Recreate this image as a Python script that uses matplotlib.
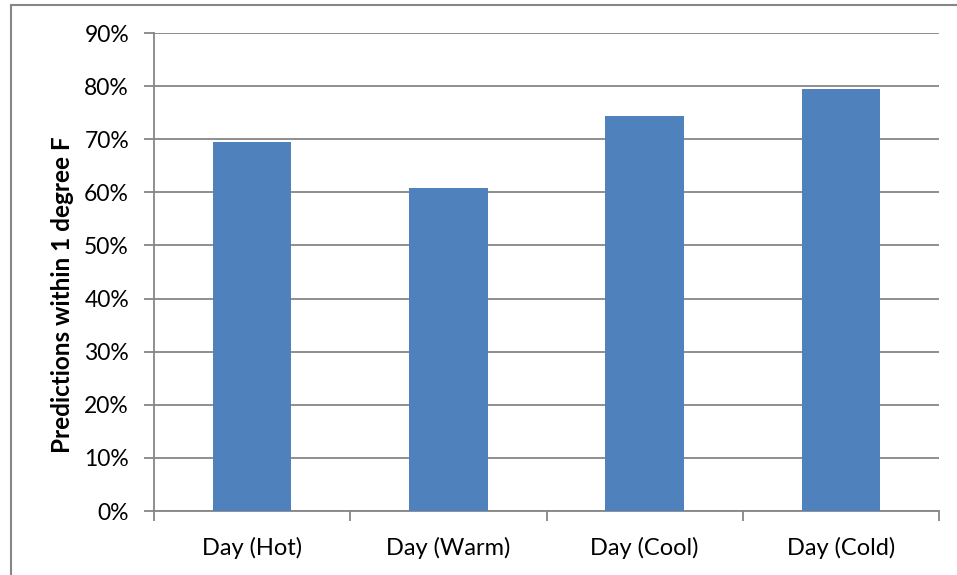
import matplotlib.pyplot as plt
from matplotlib.patches import Rectangle
from matplotlib.ticker import PercentFormatter

# values (fraction within 1 degree F)
categories = ["Day (Hot)", "Day (Warm)", "Day (Cool)", "Day (Cold)"]
values = [0.694, 0.609, 0.744, 0.794]
y_ticks = [0.0, 0.1, 0.2, 0.3, 0.4, 0.5, 0.6, 0.7, 0.8, 0.9]

plt.rcParams['font.family'] = ['Lato', 'DejaVu Sans']

grey = "#868686"
fig = plt.figure(figsize=(9.57, 5.75), dpi=100)
ax = fig.add_axes([154 / 957, 1 - 511 / 575, 785 / 957, 478 / 575])

x = list(range(len(categories)))
ax.bar(x, values, width=0.4, color="#4F81BD", zorder=3)

ax.set_xlim(-0.5, len(categories) - 0.5)
ax.set_ylim(0, 0.9)
ax.set_yticks(y_ticks)
ax.yaxis.set_major_formatter(PercentFormatter(1.0, decimals=0))
ax.set_xticks(x)
ax.set_xticklabels(categories)
ax.set_xticks([i - 0.5 for i in range(len(categories) + 1)], minor=True)

ax.grid(axis='y', color=grey, linewidth=1.3, zorder=0)
for side in ['top', 'right']:
    ax.spines[side].set_visible(False)
for side in ['left', 'bottom']:
    ax.spines[side].set_color(grey)
    ax.spines[side].set_linewidth(1.3)

ax.tick_params(axis='y', length=7, width=1.3, color=grey, labelsize=16.5, pad=11)
ax.tick_params(axis='x', which='major', length=0, labelsize=17, pad=19)
ax.tick_params(axis='x', which='minor', length=7, width=1.3, color=grey)

ax.set_ylabel("Predictions within 1 degree F", fontsize=17.5, fontweight='bold', va='center')
ax.yaxis.set_label_coords((63 - 154) / 785, (511 - 295) / 478)

# outer chart border
fig.patches.append(Rectangle((11 / 957, -0.05), 1.0, 1 - 5 / 575 + 0.05,
                             transform=fig.transFigure, fill=False,
                             edgecolor=grey, linewidth=1.5))

fig.savefig("out.png", dpi=100)
